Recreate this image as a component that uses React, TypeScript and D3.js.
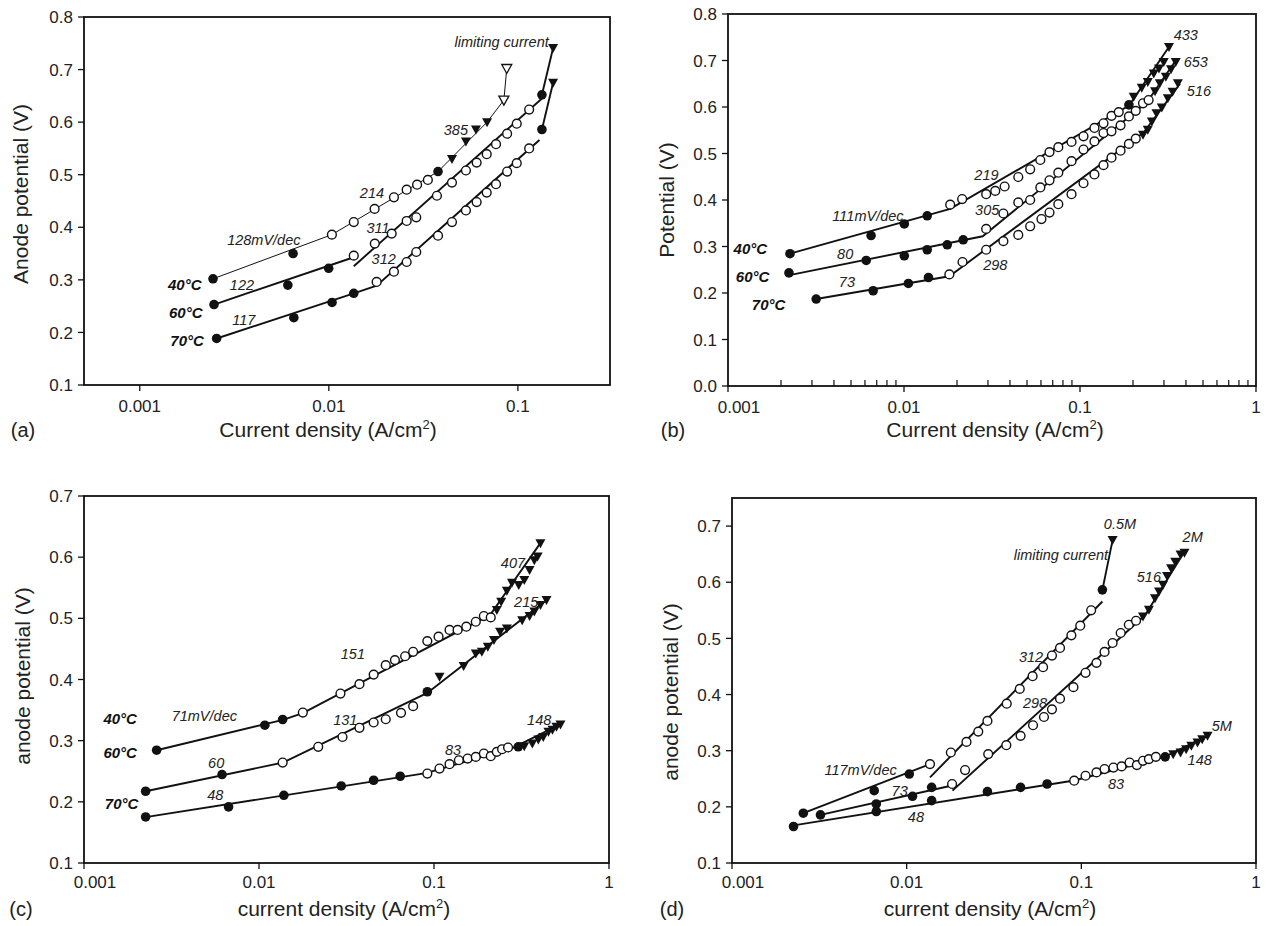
import React from 'react';
import * as d3 from 'd3';

type P = [number, number];
type Ann = [string, number, number];

// ---------- Panel (a) ----------
const A40_FILLED: P[] = [[0.00244, 0.302], [0.00647, 0.35], [0.0378, 0.506]];
const A40_OPEN: P[] = [[0.01038, 0.386], [0.01355, 0.41], [0.01746, 0.435], [0.0221, 0.457], [0.0258, 0.4715], [0.0293, 0.481], [0.0334, 0.49]];
const A40_TRI: P[] = [[0.0448, 0.53], [0.0531, 0.563], [0.06, 0.586], [0.0687, 0.6]];
const A40_OPENTRI: P[] = [[0.0843, 0.642], [0.0873, 0.702]];
const A40_FIT: P[][] = [[[0.00244, 0.302], [0.01038, 0.386], [0.0378, 0.506], [0.0687, 0.6], [0.0843, 0.642], [0.0873, 0.702]]];

const A60_FILLED: P[] = [[0.00247, 0.253], [0.00607, 0.29], [0.00998, 0.322], [0.134, 0.652]];
const A60_OPEN: P[] = [[0.01355, 0.346], [0.0175, 0.369], [0.0215, 0.388], [0.0258, 0.412], [0.029, 0.419], [0.0373, 0.46], [0.0448, 0.485], [0.0531, 0.508], [0.0605, 0.523], [0.0684, 0.539], [0.0766, 0.558], [0.0877, 0.578], [0.0986, 0.597], [0.1147, 0.624]];
const A60_TRI: P[] = [[0.1535, 0.741]];
const A60_FIT: P[][] = [[[0.00247, 0.253], [0.01355, 0.343]], [[0.01355, 0.326], [0.134, 0.645]], [[0.134, 0.652], [0.1535, 0.741]]];

const A70_FILLED: P[] = [[0.00255, 0.1885], [0.00653, 0.228], [0.0104, 0.257], [0.01355, 0.2744], [0.134, 0.586]];
const A70_OPEN: P[] = [[0.0179, 0.296], [0.0221, 0.3155], [0.0258, 0.334], [0.029, 0.353], [0.0378, 0.384], [0.0448, 0.41], [0.0531, 0.432], [0.0605, 0.448], [0.0684, 0.466], [0.0766, 0.482], [0.0877, 0.506], [0.0986, 0.522], [0.1147, 0.55]];
const A70_TRI: P[] = [[0.1535, 0.675]];
const A70_FIT: P[][] = [[[0.00255, 0.1885], [0.01355, 0.2744], [0.0179, 0.289], [0.13, 0.566]], [[0.134, 0.586], [0.1535, 0.675]]];

const A_NOTES: Ann[] = [
  ['limiting current', 0.082, 0.753], ['385', 0.047, 0.585], ['214', 0.0169, 0.466],
  ['311', 0.0182, 0.399], ['128mV/dec', 0.00453, 0.376], ['312', 0.0195, 0.339],
  ['122', 0.00347, 0.29], ['117', 0.00355, 0.224],
];
const A_TEMPS: Ann[] = [['40°C', 0.00173, 0.291], ['60°C', 0.00175, 0.238], ['70°C', 0.00178, 0.184]];

// ---------- Panel (b) ----------
const B40_FILLED: P[] = [[0.00225, 0.2845], [0.0065, 0.3236], [0.01004, 0.3485], [0.01355, 0.366], [0.1896, 0.6046]];
const B40_OPEN: P[] = [[0.0183, 0.39], [0.0214, 0.402], [0.0293, 0.4125], [0.033, 0.4196], [0.0373, 0.429], [0.0446, 0.4495], [0.0521, 0.466], [0.0595, 0.486], [0.0671, 0.503], [0.0753, 0.5135], [0.0895, 0.525], [0.1047, 0.537], [0.1208, 0.555], [0.136, 0.565], [0.151, 0.581], [0.166, 0.589]];
const B40_TRI: P[] = [[0.2018, 0.622], [0.2243, 0.6415], [0.2427, 0.654], [0.2625, 0.672], [0.281, 0.683], [0.299, 0.697], [0.3204, 0.729]];
const B40_FIT: P[][] = [[[0.00225, 0.2845], [0.0183, 0.381], [0.19, 0.603], [0.32, 0.729]]];

const B60_FILLED: P[] = [[0.00222, 0.2432], [0.0061, 0.27], [0.01004, 0.28], [0.01355, 0.293], [0.0176, 0.3037], [0.0217, 0.3144]];
const B60_OPEN: P[] = [[0.0293, 0.3378], [0.0367, 0.371], [0.0446, 0.3947], [0.0521, 0.4], [0.0595, 0.427], [0.0671, 0.4424], [0.0753, 0.4587], [0.0895, 0.4836], [0.1047, 0.5085], [0.1208, 0.526], [0.136, 0.544], [0.151, 0.5477], [0.17, 0.5605], [0.1896, 0.5797], [0.2074, 0.5917], [0.228, 0.608], [0.2454, 0.615]];
const B60_TRI: P[] = [[0.267, 0.634], [0.284, 0.651], [0.3074, 0.665], [0.329, 0.681], [0.35, 0.697]];
const B60_FIT: P[][] = [[[0.0022, 0.238], [0.028, 0.322], [0.24, 0.61], [0.35, 0.7]]];

const B70_FILLED: P[] = [[0.00317, 0.187], [0.00668, 0.2048], [0.01059, 0.2205], [0.01377, 0.2333]];
const B70_OPEN: P[] = [[0.0181, 0.24], [0.0215, 0.2667], [0.0293, 0.293], [0.0367, 0.3115], [0.0446, 0.325], [0.0521, 0.3435], [0.0604, 0.359], [0.0671, 0.373], [0.0753, 0.391], [0.0895, 0.4125], [0.1047, 0.436], [0.1208, 0.455], [0.136, 0.475], [0.151, 0.491], [0.17, 0.506], [0.1896, 0.5206], [0.2074, 0.532]];
const B70_TRI: P[] = [[0.228, 0.5405], [0.2427, 0.551], [0.256, 0.569], [0.272, 0.5868], [0.2916, 0.599], [0.3155, 0.619], [0.3357, 0.633], [0.3597, 0.651]];
const B70_FIT: P[][] = [[[0.00317, 0.187], [0.0181, 0.236], [0.23, 0.545], [0.37, 0.65]]];

const B_NOTES: Ann[] = [
  ['433', 0.399, 0.754], ['653', 0.455, 0.697], ['516', 0.474, 0.634],
  ['219', 0.0294, 0.455], ['305', 0.0297, 0.378], ['298', 0.033, 0.261],
  ['111mV/dec', 0.00624, 0.366], ['80', 0.00463, 0.2845], ['73', 0.00474, 0.224],
];
const B_TEMPS: Ann[] = [['40°C', 0.00134, 0.295], ['60°C', 0.00138, 0.2347], ['70°C', 0.0017, 0.174]];

// ---------- Panel (c) ----------
const C40_FILLED: P[] = [[0.0026, 0.2844], [0.0108, 0.3253], [0.01365, 0.3346]];
const C40_OPEN: P[] = [[0.0178, 0.346], [0.0292, 0.377], [0.0375, 0.3924], [0.0452, 0.408], [0.053, 0.4235], [0.0598, 0.4317], [0.0684, 0.438], [0.076, 0.4453], [0.0916, 0.4628], [0.1062, 0.47], [0.1227, 0.481], [0.1364, 0.481], [0.153, 0.4863], [0.1733, 0.4944], [0.1927, 0.5037], [0.211, 0.5015]];
const C40_TRI: P[] = [[0.2285, 0.5135], [0.242, 0.527], [0.2608, 0.545], [0.279, 0.558], [0.305, 0.5545], [0.328, 0.5626], [0.3516, 0.579], [0.3744, 0.595], [0.391, 0.601], [0.4056, 0.6227]];
const C40_FIT: P[][] = [[[0.0026, 0.2844], [0.0137, 0.334], [0.0178, 0.345], [0.21, 0.506], [0.41, 0.625]]];

const C60_FILLED: P[] = [[0.00225, 0.2173], [0.00615, 0.2446], [0.0916, 0.38]];
const C60_OPEN: P[] = [[0.01365, 0.2642], [0.0218, 0.29], [0.03, 0.306], [0.0375, 0.321], [0.0452, 0.3297], [0.053, 0.335], [0.0648, 0.3455], [0.076, 0.3564]];
const C60_TRI: P[] = [[0.1075, 0.4044], [0.1477, 0.422], [0.1733, 0.4426], [0.1877, 0.4453], [0.203, 0.4535], [0.22, 0.4644], [0.2385, 0.478], [0.261, 0.4835], [0.319, 0.497], [0.3516, 0.5037], [0.3744, 0.511], [0.4056, 0.5217], [0.4394, 0.53]];
const C60_FIT: P[][] = [[[0.00225, 0.2173], [0.0137, 0.2642], [0.0916, 0.378], [0.44, 0.53]]];

const C70_FILLED: P[] = [[0.00225, 0.1753], [0.0067, 0.1917], [0.01387, 0.2107], [0.0295, 0.226], [0.0452, 0.2353], [0.0641, 0.2418], [0.303, 0.29]];
const C70_OPEN: P[] = [[0.0916, 0.2462], [0.1075, 0.2544], [0.1227, 0.2615], [0.1387, 0.268], [0.1557, 0.2708], [0.1733, 0.2735], [0.1927, 0.279], [0.211, 0.2746], [0.2285, 0.2817], [0.245, 0.286], [0.265, 0.2888]];
const C70_TRI: P[] = [[0.328, 0.291], [0.3647, 0.2953], [0.3947, 0.302], [0.421, 0.306], [0.4508, 0.3144], [0.4754, 0.318], [0.501, 0.3226], [0.528, 0.3264]];
const C70_FIT: P[][] = [[[0.00225, 0.175], [0.09, 0.247], [0.28, 0.288], [0.53, 0.327]]];

const C_NOTES: Ann[] = [
  ['407', 0.2825, 0.59], ['215', 0.3365, 0.527], ['151', 0.0344, 0.4426],
  ['71mV/dec', 0.00487, 0.34], ['131', 0.0311, 0.3335], ['148', 0.399, 0.3335],
  ['83', 0.1285, 0.2844], ['60', 0.00569, 0.2637], ['48', 0.00563, 0.2107],
];
const C_TEMPS: Ann[] = [['40°C', 0.00161, 0.336], ['60°C', 0.00161, 0.28], ['70°C', 0.00164, 0.197]];

// ---------- Panel (d) ----------
const D05_FILLED: P[] = [[0.00256, 0.1887], [0.00652, 0.2288], [0.01035, 0.2584], [0.132, 0.5864]];
const D05_OPEN: P[] = [[0.0136, 0.2761], [0.0179, 0.2968], [0.022, 0.3157], [0.0257, 0.334], [0.029, 0.353], [0.0374, 0.3837], [0.0444, 0.41], [0.0526, 0.4327], [0.0604, 0.4487], [0.0679, 0.4694], [0.0755, 0.483], [0.0877, 0.5054], [0.0986, 0.5226], [0.1138, 0.55]];
const D05_TRI: P[] = [[0.151, 0.675]];
const D05_FIT: P[][] = [[[0.00256, 0.1887], [0.0136, 0.276]], [[0.0136, 0.2525], [0.132, 0.5657]], [[0.132, 0.5864], [0.151, 0.675]]];

const D2_FILLED: P[] = [[0.00321, 0.1857], [0.0067, 0.2052], [0.0108, 0.2188], [0.0139, 0.2347]];
const D2_OPEN: P[] = [[0.0182, 0.2407], [0.0216, 0.2655], [0.0293, 0.2939], [0.0372, 0.3098], [0.0449, 0.3264], [0.0529, 0.3453], [0.0611, 0.36], [0.0679, 0.3736], [0.0755, 0.3926], [0.0901, 0.4132], [0.1057, 0.4387], [0.1221, 0.4564], [0.1358, 0.4759], [0.151, 0.4918], [0.168, 0.5096], [0.187, 0.5243], [0.2057, 0.5314]];
const D2_TRI: P[] = [[0.2254, 0.539], [0.2437, 0.551], [0.264, 0.5716], [0.2786, 0.5834], [0.2938, 0.5953], [0.3097, 0.6112], [0.3266, 0.6248], [0.345, 0.6366], [0.3698, 0.6496], [0.3896, 0.6526]];
const D2_FIT: P[][] = [[[0.00321, 0.1857], [0.0182, 0.238]], [[0.0183, 0.2289], [0.2326, 0.542], [0.385, 0.652]]];

const D5_FILLED: P[] = [[0.00225, 0.165], [0.0067, 0.1916], [0.0139, 0.2111], [0.029, 0.2271], [0.0449, 0.2347], [0.0637, 0.2407], [0.302, 0.289]];
const D5_OPEN: P[] = [[0.091, 0.2466], [0.1057, 0.2554], [0.1221, 0.2613], [0.1358, 0.2673], [0.1527, 0.27], [0.17, 0.272], [0.1888, 0.279], [0.208, 0.2743], [0.2254, 0.282], [0.2437, 0.285], [0.2672, 0.289]];
const D5_TRI: P[] = [[0.3357, 0.2938], [0.3698, 0.2968], [0.398, 0.3027], [0.4266, 0.3086], [0.4623, 0.3145], [0.4921, 0.3204], [0.528, 0.3264]];
const D5_FIT: P[][] = [[[0.00225, 0.167], [0.091, 0.247], [0.3, 0.289], [0.53, 0.327]]];

const D_NOTES: Ann[] = [
  ['0.5M', 0.1664, 0.7046], ['limiting current', 0.0764, 0.648], ['2M', 0.434, 0.68],
  ['516', 0.2437, 0.609], ['312', 0.0515, 0.467], ['298', 0.0543, 0.3855],
  ['5M', 0.637, 0.344], ['148', 0.476, 0.2838], ['83', 0.158, 0.2407],
  ['117mV/dec', 0.00545, 0.266], ['73', 0.00912, 0.2288], ['48', 0.0113, 0.1816],
];

// ---------- Axes ----------
const X_TICKS_A = [0.001, 0.01, 0.1];
const X_TICKS_FULL = [0.001, 0.01, 0.1, 1];
const Y_TICKS_A = [0.1, 0.2, 0.3, 0.4, 0.5, 0.6, 0.7, 0.8];
const Y_TICKS_B = [0.0, 0.1, 0.2, 0.3, 0.4, 0.5, 0.6, 0.7, 0.8];
const Y_TICKS_C = [0.1, 0.2, 0.3, 0.4, 0.5, 0.6, 0.7];
const Y_TICKS_D = [0.1, 0.2, 0.3, 0.4, 0.5, 0.6, 0.7];

const FONT = 'Arial, "Liberation Sans", Helvetica, sans-serif';

interface Series { filled: P[]; open: P[]; tri: P[]; openTri?: P[]; fit: P[][]; thin?: boolean; }

interface PanelCfg {
  left: number; right: number; top: number; bottom: number;
  xDomain: [number, number]; yDomain: [number, number];
  xTicks: number[]; yTicks: number[]; minor?: boolean;
  series: Series[]; notes: Ann[]; temps: Ann[];
  yTitle: string; xTitle: string; letter: string;
  xTitleX: number; titleY: number; yTitleX: number; yTitleY: number; letterX: number;
  tickLabelDy: number;
}

const tri = 'M-5,-4L5,-4L0,5Z';

function Panel({ c }: { c: PanelCfg }) {
  const x = d3.scaleLog().domain(c.xDomain).range([c.left, c.right]);
  const y = d3.scaleLinear().domain(c.yDomain).range([c.bottom, c.top]);
  const line = d3.line<P>().x(d => x(d[0])).y(d => y(d[1]));
  const fmtY = d3.format('.1f');
  const minorTicks = c.minor ? x.ticks().filter(t => !c.xTicks.some(m => Math.abs(m - t) < 1e-9)) : [];
  return (
    <g>
      {c.series.map((s, i) => (
        <g key={'f' + i}>
          {s.fit.map((seg, j) => (
            <path key={j} d={line(seg) || ''} fill="none" stroke="#111" strokeWidth={s.thin ? 1 : 1.9} />
          ))}
        </g>
      ))}
      {c.series.map((s, i) => (
        <g key={'m' + i}>
          {s.open.map((p, j) => (
            <circle key={'o' + j} cx={x(p[0])} cy={y(p[1])} r={4.4} fill="#fff" stroke="#111" strokeWidth={1.4} />
          ))}
          {s.filled.map((p, j) => (
            <circle key={'c' + j} cx={x(p[0])} cy={y(p[1])} r={4.8} fill="#111" />
          ))}
          {s.tri.map((p, j) => (
            <path key={'t' + j} d={tri} transform={`translate(${x(p[0])},${y(p[1])})`} fill="#111" />
          ))}
          {(s.openTri || []).map((p, j) => (
            <path key={'u' + j} d={tri} transform={`translate(${x(p[0])},${y(p[1])})`} fill="#fff" stroke="#111" strokeWidth={1.3} />
          ))}
        </g>
      ))}
      <rect x={c.left} y={c.top} width={c.right - c.left} height={c.bottom - c.top} fill="none" stroke="#111" strokeWidth={1.8} />
      {c.yTicks.map(t => (
        <g key={'y' + t}>
          <line x1={c.left - 6} x2={c.left} y1={y(t)} y2={y(t)} stroke="#111" strokeWidth={1.3} />
          <text x={c.left - 11} y={y(t)} dy="0.36em" textAnchor="end" fontSize={17} fontFamily={FONT} fill="#222">{fmtY(t)}</text>
        </g>
      ))}
      {c.xTicks.map(t => {
        const px = x(t);
        const shift = Math.abs(px - c.left) < 1 ? 11 : 0;
        return (
          <g key={'x' + t}>
            <line x1={px} x2={px} y1={c.bottom} y2={c.bottom + 6} stroke="#111" strokeWidth={1.3} />
            <text x={px + shift} y={c.bottom + c.tickLabelDy} textAnchor="middle" fontSize={17} fontFamily={FONT} fill="#222">{String(t)}</text>
          </g>
        );
      })}
      {minorTicks.map(t => (
        <line key={'mn' + t} x1={x(t)} x2={x(t)} y1={c.bottom} y2={c.bottom - 6} stroke="#111" strokeWidth={1.2} />
      ))}
      {c.notes.map(([s, nx, ny], i) => (
        <text key={'n' + i} x={x(nx)} y={y(ny)} dy="0.35em" textAnchor="middle" fontSize={14.5} fontStyle="italic" fontFamily={FONT} fill="#222">{s}</text>
      ))}
      {c.temps.map(([s, nx, ny], i) => (
        <text key={'tp' + i} x={x(nx)} y={y(ny)} dy="0.35em" textAnchor="middle" fontSize={15} fontStyle="italic" fontWeight="bold" fontFamily={FONT} fill="#111">{s}</text>
      ))}
      <text x={c.xTitleX} y={c.titleY} textAnchor="middle" fontSize={21} fontFamily={FONT} fill="#222">
        {c.xTitle}<tspan fontSize={13} dy={-8}>2</tspan><tspan dy={8}>)</tspan>
      </text>
      <text transform={`translate(${c.yTitleX},${c.yTitleY}) rotate(-90)`} dy="0.35em" textAnchor="middle" fontSize={21} fontFamily={FONT} fill="#222">{c.yTitle}</text>
      <text x={c.letterX} y={c.titleY} textAnchor="middle" fontSize={20} fontFamily={FONT} fill="#222">{c.letter}</text>
    </g>
  );
}

export default function App() {
  const panels: PanelCfg[] = [
    {
      left: 84, right: 610, top: 17, bottom: 385, xDomain: [0.000507, 0.307], yDomain: [0.1, 0.8],
      xTicks: X_TICKS_A, yTicks: Y_TICKS_A,
      series: [
        { filled: A40_FILLED, open: A40_OPEN, tri: A40_TRI, openTri: A40_OPENTRI, fit: A40_FIT, thin: true },
        { filled: A60_FILLED, open: A60_OPEN, tri: A60_TRI, fit: A60_FIT },
        { filled: A70_FILLED, open: A70_OPEN, tri: A70_TRI, fit: A70_FIT },
      ],
      notes: A_NOTES, temps: A_TEMPS,
      yTitle: 'Anode potential (V)', xTitle: 'Current density (A/cm', letter: '(a)',
      xTitleX: 328, titleY: 437, yTitleX: 21, yTitleY: 194, letterX: 23, tickLabelDy: 27,
    },
    {
      left: 728, right: 1256, top: 14, bottom: 386, xDomain: [0.001, 1], yDomain: [0, 0.8],
      xTicks: X_TICKS_FULL, yTicks: Y_TICKS_B, minor: true,
      series: [
        { filled: B40_FILLED, open: B40_OPEN, tri: B40_TRI, fit: B40_FIT },
        { filled: B60_FILLED, open: B60_OPEN, tri: B60_TRI, fit: B60_FIT },
        { filled: B70_FILLED, open: B70_OPEN, tri: B70_TRI, fit: B70_FIT },
      ],
      notes: B_NOTES, temps: B_TEMPS,
      yTitle: 'Potential (V)', xTitle: 'Current density (A/cm', letter: '(b)',
      xTitleX: 995, titleY: 437, yTitleX: 667, yTitleY: 200, letterX: 673, tickLabelDy: 27,
    },
    {
      left: 84, right: 609, top: 496, bottom: 863, xDomain: [0.001, 1], yDomain: [0.1, 0.7],
      xTicks: X_TICKS_FULL, yTicks: Y_TICKS_C,
      series: [
        { filled: C40_FILLED, open: C40_OPEN, tri: C40_TRI, fit: C40_FIT },
        { filled: C60_FILLED, open: C60_OPEN, tri: C60_TRI, fit: C60_FIT },
        { filled: C70_FILLED, open: C70_OPEN, tri: C70_TRI, fit: C70_FIT },
      ],
      notes: C_NOTES, temps: C_TEMPS,
      yTitle: 'anode potential (V)', xTitle: 'current density (A/cm', letter: '(c)',
      xTitleX: 344, titleY: 916, yTitleX: 23, yTitleY: 676, letterX: 21, tickLabelDy: 25,
    },
    {
      left: 732, right: 1256, top: 498, bottom: 863, xDomain: [0.001, 1], yDomain: [0.1, 0.75],
      xTicks: X_TICKS_FULL, yTicks: Y_TICKS_D,
      series: [
        { filled: D05_FILLED, open: D05_OPEN, tri: D05_TRI, fit: D05_FIT },
        { filled: D2_FILLED, open: D2_OPEN, tri: D2_TRI, fit: D2_FIT },
        { filled: D5_FILLED, open: D5_OPEN, tri: D5_TRI, fit: D5_FIT },
      ],
      notes: D_NOTES, temps: [],
      yTitle: 'anode potential (V)', xTitle: 'current density (A/cm', letter: '(d)',
      xTitleX: 990, titleY: 916, yTitleX: 671, yTitleY: 692, letterX: 672, tickLabelDy: 25,
    },
  ];
  return (
    <svg width={1266} height={926} style={{ position: 'absolute', left: 0, top: 0, background: '#fff' }}>
      <rect x={0} y={0} width={1266} height={926} fill="#fff" />
      {panels.map((p, i) => <Panel key={i} c={p} />)}
    </svg>
  );
}
